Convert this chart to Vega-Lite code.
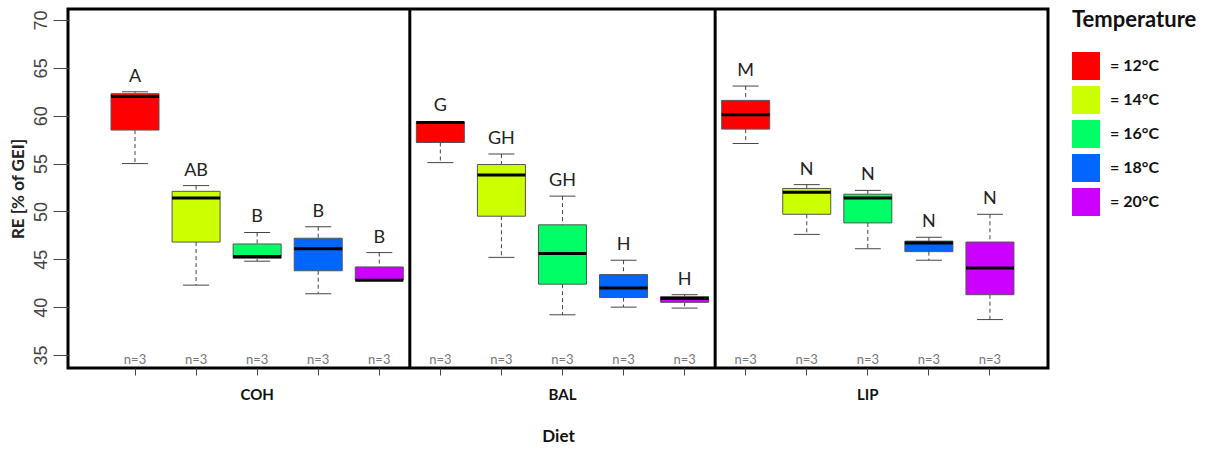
{
  "$schema": "https://vega.github.io/schema/vega-lite/v6.json",
  "width": 980,
  "height": 359,
  "autosize": {"type": "none"},
  "padding": {"left": 68, "top": 9, "right": 169, "bottom": 82},
  "background": "white",
  "config": {"view": {"stroke": "black", "strokeWidth": 3}, "font": "Lato"},
  "datasets": {
    "boxes": [
      {"diet": "COH", "temp": "12°C", "lo": 55.0, "q1": 58.5, "med": 62.0, "q3": 62.3, "hi": 62.5, "sig": "A", "n": 3},
      {"diet": "COH", "temp": "14°C", "lo": 42.3, "q1": 46.8, "med": 51.4, "q3": 52.1, "hi": 52.7, "sig": "AB", "n": 3},
      {"diet": "COH", "temp": "16°C", "lo": 44.8, "q1": 45.1, "med": 45.3, "q3": 46.6, "hi": 47.8, "sig": "B", "n": 3},
      {"diet": "COH", "temp": "18°C", "lo": 41.4, "q1": 43.8, "med": 46.1, "q3": 47.2, "hi": 48.4, "sig": "B", "n": 3},
      {"diet": "COH", "temp": "20°C", "lo": 42.8, "q1": 42.8, "med": 42.8, "q3": 44.2, "hi": 45.7, "sig": "B", "n": 3},
      {"diet": "BAL", "temp": "12°C", "lo": 55.1, "q1": 57.2, "med": 59.3, "q3": 59.35, "hi": 59.4, "sig": "G", "n": 3},
      {"diet": "BAL", "temp": "14°C", "lo": 45.2, "q1": 49.5, "med": 53.8, "q3": 54.9, "hi": 56.0, "sig": "GH", "n": 3},
      {"diet": "BAL", "temp": "16°C", "lo": 39.2, "q1": 42.4, "med": 45.6, "q3": 48.6, "hi": 51.6, "sig": "GH", "n": 3},
      {"diet": "BAL", "temp": "18°C", "lo": 40.0, "q1": 41.0, "med": 42.0, "q3": 43.4, "hi": 44.9, "sig": "H", "n": 3},
      {"diet": "BAL", "temp": "20°C", "lo": 39.9, "q1": 40.5, "med": 40.9, "q3": 41.1, "hi": 41.3, "sig": "H", "n": 3},
      {"diet": "LIP", "temp": "12°C", "lo": 57.1, "q1": 58.6, "med": 60.1, "q3": 61.6, "hi": 63.1, "sig": "M", "n": 3},
      {"diet": "LIP", "temp": "14°C", "lo": 47.6, "q1": 49.7, "med": 52.0, "q3": 52.4, "hi": 52.8, "sig": "N", "n": 3},
      {"diet": "LIP", "temp": "16°C", "lo": 46.1, "q1": 48.8, "med": 51.4, "q3": 51.8, "hi": 52.2, "sig": "N", "n": 3},
      {"diet": "LIP", "temp": "18°C", "lo": 44.9, "q1": 45.8, "med": 46.7, "q3": 46.9, "hi": 47.3, "sig": "N", "n": 3},
      {"diet": "LIP", "temp": "20°C", "lo": 38.7, "q1": 41.3, "med": 44.1, "q3": 46.8, "hi": 49.7, "sig": "N", "n": 3}
    ],
    "dividers": [
      {"diet": "COH", "temp": "20°C"},
      {"diet": "BAL", "temp": "20°C"}
    ]
  },
  "layer": [
    {
      "mark": {"type": "rule", "color": "#aaaaaa", "strokeWidth": 1.5},
      "encoding": {"y": {"datum": 33.95, "type": "quantitative"}}
    },
    {
      "data": {"name": "boxes"},
      "transform": [
        {"calculate": "datum.diet + '|' + datum.temp", "as": "key"},
        {"calculate": "'n=' + datum.n", "as": "nlab"}
      ],
      "encoding": {
        "x": {
          "field": "key", "type": "nominal",
          "scale": {"domain": ["COH|12°C","COH|14°C","COH|16°C","COH|18°C","COH|20°C","BAL|12°C","BAL|14°C","BAL|16°C","BAL|18°C","BAL|20°C","LIP|12°C","LIP|14°C","LIP|16°C","LIP|18°C","LIP|20°C"], "paddingInner": 0, "paddingOuter": 0.524, "align": 0.57},
          "axis": {
            "title": "Diet", "domain": false, "tickSize": 7, "tickColor": "#444444", "tickWidth": 1,
            "labelAngle": 0, "labelPadding": 12, "labelFont": "Lato", "labelFontSize": 15, "labelFontWeight": "bold", "labelColor": "#111111",
            "labelExpr": "test(/16/, datum.value) ? substring(datum.value, 0, 3) : ''",
            "titleFont": "Lato", "titleFontSize": 17, "titleFontWeight": "bold", "titleColor": "#111111", "titlePadding": 26
          }
        }
      },
      "layer": [
        {
          "mark": {"type": "rule", "color": "#444444", "strokeWidth": 1, "strokeDash": [4, 3]},
          "encoding": {
            "y": {"field": "hi", "type": "quantitative", "scale": {"domain": [33.64, 71.15], "nice": false, "zero": false},
              "axis": {"title": "RE [% of GEI]", "values": [35, 40, 45, 50, 55, 60, 65, 70], "domain": false, "grid": false,
                "tickSize": 15, "tickColor": "#444444", "labelPadding": 3, "labelAngle": -90, "labelAlign": "center", "labelBaseline": "bottom",
                "labelFont": "Liberation Sans", "labelFontSize": 18, "labelColor": "#444444",
                "titleFont": "Lato", "titleFontSize": 17, "titleFontWeight": "bold", "titleColor": "#222222", "titlePadding": 5}},
            "y2": {"field": "q3"}
          }
        },
        {
          "mark": {"type": "rule", "color": "#444444", "strokeWidth": 1, "strokeDash": [4, 3]},
          "encoding": {"y": {"field": "q1", "type": "quantitative"}, "y2": {"field": "lo"}}
        },
        {
          "mark": {"type": "tick", "color": "#444444", "size": 26, "thickness": 1, "opacity": 1},
          "encoding": {"y": {"field": "hi", "type": "quantitative"}}
        },
        {
          "mark": {"type": "tick", "color": "#444444", "size": 26, "thickness": 1, "opacity": 1},
          "encoding": {"y": {"field": "lo", "type": "quantitative"}}
        },
        {
          "mark": {"type": "bar", "width": 48, "stroke": "#555555", "strokeWidth": 1, "opacity": 1},
          "encoding": {
            "y": {"field": "q1", "type": "quantitative"},
            "y2": {"field": "q3"},
            "color": {
              "field": "temp", "type": "nominal",
              "scale": {"domain": ["12°C", "14°C", "16°C", "18°C", "20°C"], "range": ["#FF0000", "#CCFF00", "#00FF66", "#0066FF", "#CC00FF"]},
              "legend": {
                "orient": "none", "legendX": 1004, "legendY": 1, "padding": 0,
                "title": "Temperature", "titleFont": "Lato", "titleFontSize": 22, "titleFontWeight": "bold", "titleColor": "#111111", "titlePadding": 20,
                "symbolType": "square", "symbolSize": 784, "symbolStrokeWidth": 0, "symbolOpacity": 1,
                "rowPadding": 6, "labelOffset": 10, "labelFont": "Lato", "labelFontSize": 16, "labelFontWeight": "bold", "labelColor": "#111111",
                "labelExpr": "'= ' + datum.label"
              }
            }
          }
        },
        {
          "mark": {"type": "tick", "color": "#000000", "size": 48, "thickness": 3, "opacity": 1},
          "encoding": {"y": {"field": "med", "type": "quantitative"}}
        },
        {
          "mark": {"type": "text", "baseline": "bottom", "dy": -6, "font": "Lato", "fontSize": 18, "color": "#222222"},
          "encoding": {"y": {"field": "hi", "type": "quantitative"}, "text": {"field": "sig"}}
        },
        {
          "mark": {"type": "text", "baseline": "bottom", "dy": -1, "font": "Lato", "fontSize": 13, "color": "#777777"},
          "encoding": {"y": {"datum": 33.64, "type": "quantitative"}, "text": {"field": "nlab"}}
        }
      ]
    },
    {
      "data": {"name": "dividers"},
      "transform": [{"calculate": "datum.diet + '|' + datum.temp", "as": "key"}],
      "mark": {"type": "rule", "color": "#000000", "strokeWidth": 3},
      "encoding": {
        "x": {"field": "key", "type": "nominal", "bandPosition": 1}
      }
    }
  ]
}
